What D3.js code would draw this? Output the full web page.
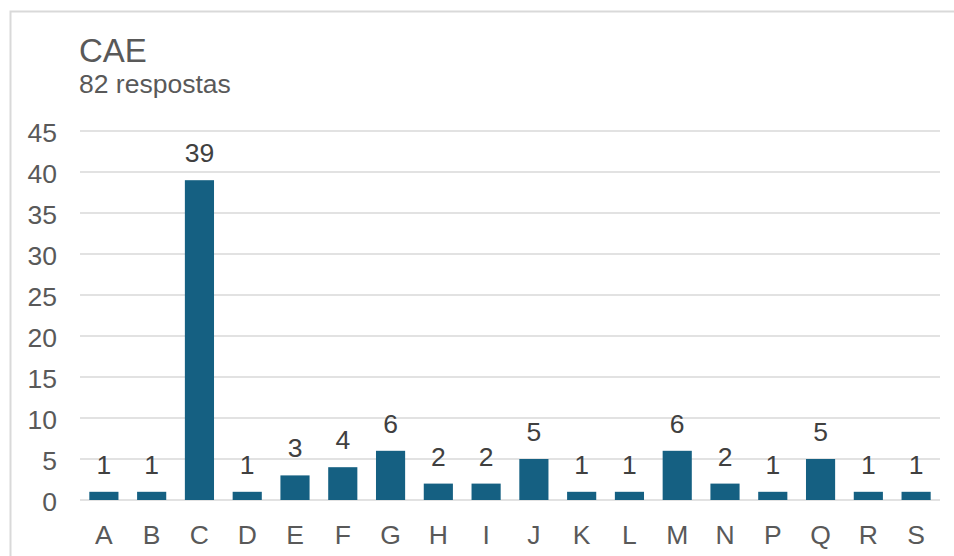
<!DOCTYPE html>
<html>
<head>
<meta charset="utf-8">
<script src="https://cdn.jsdelivr.net/npm/d3@7.9.0/dist/d3.min.js"></script>
<style>
  body { margin: 0; background: #fff; }
  svg { display: block; font-family: "Liberation Sans", Arial, sans-serif; }
</style>
</head>
<body>
<svg id="chart" width="954" height="556"></svg>
<script>
const categories = ['A', 'B', 'C', 'D', 'E', 'F', 'G', 'H', 'I', 'J', 'K', 'L', 'M', 'N', 'P', 'Q', 'R', 'S'];
const counts = [1, 1, 39, 1, 3, 4, 6, 2, 2, 5, 1, 1, 6, 2, 1, 5, 1, 1];
const yTicks = [0, 5, 10, 15, 20, 25, 30, 35, 40, 45];

const svg = d3.select('#chart');
const margin = { left: 80, right: 14, top: 131, bottom: 56 };
const width = 954, height = 556;

// chart frame
svg.append('rect')
  .attr('x', 10.5).attr('y', 11.5)
  .attr('width', 960).attr('height', 600)
  .attr('fill', 'none').attr('stroke', '#d9d9d9').attr('stroke-width', 2);

svg.append('text').attr('x', 79).attr('y', 62)
  .attr('font-size', 33).attr('fill', '#595959').text('CAE');
svg.append('text').attr('x', 79).attr('y', 93)
  .attr('font-size', 26.5).attr('fill', '#595959').text('82 respostas');

let x = d3.scaleBand()
  .domain(categories)
  .range([margin.left, width - margin.right])
  .paddingInner(0.39).paddingOuter(0.195);

let y = d3.scaleLinear().domain([0, 45]).range([height - margin.bottom, margin.top]);

// gridlines
svg.append('g').selectAll('line')
  .data(yTicks)
  .join('line')
  .attr('x1', margin.left).attr('x2', width - margin.right)
  .attr('y1', (d) => y(d)).attr('y2', (d) => y(d))
  .attr('stroke', '#d9d9d9').attr('stroke-width', 1.5);

// y labels
svg.append('g').selectAll('text')
  .data(yTicks)
  .join('text')
  .attr('x', 57).attr('y', (d) => y(d) + 11)
  .attr('text-anchor', 'end')
  .attr('font-size', 26.5).attr('fill', '#595959')
  .text((d) => d);

// bars
svg.append('g').selectAll('rect')
  .data(categories)
  .join('rect')
  .attr('x', (d) => x(d))
  .attr('width', x.bandwidth())
  .attr('y', (d, i) => y(counts[i]))
  .attr('height', (d, i) => y(0) - y(counts[i]))
  .attr('fill', '#156082');

// value labels
svg.append('g').selectAll('text')
  .data(categories)
  .join('text')
  .attr('x', (d) => x(d) + x.bandwidth() / 2)
  .attr('y', (d, i) => y(counts[i]) - 18)
  .attr('text-anchor', 'middle')
  .attr('font-size', 26.5).attr('fill', '#404040')
  .text((d, i) => counts[i]);

// x labels
svg.append('g').selectAll('text')
  .data(categories)
  .join('text')
  .attr('x', (d) => x(d) + x.bandwidth() / 2)
  .attr('y', 544)
  .attr('text-anchor', 'middle')
  .attr('font-size', 26.5).attr('fill', '#595959')
  .text((d) => d);
</script>
</body>
</html>
